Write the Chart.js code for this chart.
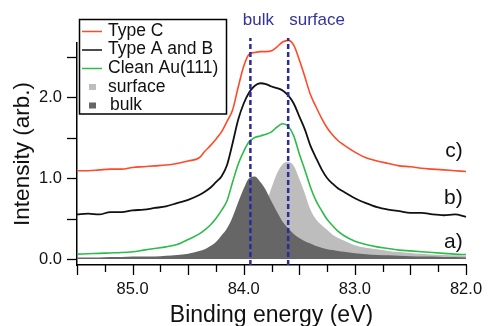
<!DOCTYPE html>
<html><head><meta charset="utf-8">
<script src="https://cdn.jsdelivr.net/npm/chart.js@4.4.1/dist/chart.umd.min.js"></script>
<style>html,body{margin:0;padding:0;background:#fff;}#wrap{width:488px;height:326px;}</style>
</head><body><div id="wrap"><canvas id="c" width="488" height="326"></canvas></div>
<script>
// ---- data (binding energy in eV, intensity in arb. units) ----
const energies = [85.5, 85.4, 85.3, 85.2, 85.1, 85.0, 84.9, 84.8, 84.7, 84.6, 84.5, 84.4,
  84.35, 84.3, 84.25, 84.2, 84.15, 84.1, 84.05, 84.0, 83.95, 83.9, 83.85, 83.8, 83.75, 83.7, 83.65, 83.6, 83.55, 83.5, 83.45, 83.4, 83.35, 83.3, 83.25, 83.2, 83.15,
  83.1, 83.0, 82.9, 82.8, 82.7, 82.6, 82.5, 82.4, 82.3, 82.2, 82.1, 82.0];
const typeC = [1.09, 1.09, 1.10, 1.11, 1.11, 1.13, 1.14, 1.15, 1.16, 1.18, 1.21, 1.25,
  1.33, 1.40, 1.48, 1.57, 1.70, 1.84, 2.12, 2.38, 2.53, 2.55, 2.56, 2.56, 2.57, 2.62, 2.68, 2.70, 2.64, 2.46, 2.25, 2.03, 1.88, 1.74, 1.62, 1.53, 1.46,
  1.41, 1.32, 1.25, 1.21, 1.18, 1.15, 1.14, 1.12, 1.11, 1.10, 1.09, 1.08];
const typeAB = [0.55, 0.56, 0.55, 0.58, 0.58, 0.60, 0.61, 0.63, 0.65, 0.69, 0.73, 0.79,
  0.83, 0.88, 0.95, 1.02, 1.16, 1.43, 1.72, 1.92, 2.06, 2.14, 2.17, 2.16, 2.13, 2.11, 2.08, 2.02, 1.92, 1.76, 1.60, 1.40, 1.25, 1.11, 1.00, 0.93, 0.87,
  0.83, 0.75, 0.69, 0.64, 0.61, 0.59, 0.57, 0.57, 0.55, 0.54, 0.55, 0.52];
const cleanAu = [0.06, 0.065, 0.07, 0.075, 0.08, 0.09, 0.11, 0.13, 0.15, 0.18, 0.24, 0.31,
  0.36, 0.42, 0.50, 0.60, 0.72, 0.95, 1.17, 1.33, 1.45, 1.50, 1.52, 1.54, 1.57, 1.63, 1.67, 1.64, 1.52, 1.30, 1.10, 0.89, 0.72, 0.60, 0.49, 0.41, 0.34,
  0.29, 0.22, 0.18, 0.15, 0.13, 0.11, 0.10, 0.09, 0.08, 0.07, 0.06, 0.055];
const surfaceFit = [0.01, 0.01, 0.012, 0.014, 0.016, 0.018, 0.02, 0.022, 0.025, 0.03, 0.035, 0.04,
  0.045, 0.05, 0.06, 0.07, 0.085, 0.10, 0.13, 0.18, 0.25, 0.36, 0.50, 0.68, 0.88, 1.06, 1.17, 1.20, 1.15, 0.99, 0.81, 0.61, 0.49, 0.42, 0.36, 0.30, 0.26,
  0.23, 0.17, 0.14, 0.12, 0.10, 0.085, 0.075, 0.065, 0.055, 0.05, 0.045, 0.04];
const bulkFit = [0.02, 0.02, 0.02, 0.025, 0.025, 0.03, 0.03, 0.03, 0.04, 0.05, 0.065, 0.10,
  0.12, 0.16, 0.21, 0.29, 0.38, 0.52, 0.70, 0.87, 1.00, 1.02, 0.95, 0.85, 0.71, 0.58, 0.46, 0.38, 0.31, 0.26, 0.22, 0.19, 0.16, 0.14, 0.12, 0.11, 0.10,
  0.09, 0.07, 0.06, 0.05, 0.045, 0.04, 0.035, 0.03, 0.03, 0.025, 0.025, 0.02];
const seriesNames = ['Type C', 'Type A and B', 'Clean Au(111)', 'surface', 'bulk'];
const peakNames = ['bulk', 'surface'];
const peakEnergies = [83.94, 83.60];
const curveTags = ['c)', 'b)', 'a)'];
const curveTagLevels = [1.325, 0.753, 0.21];
const xTickValues = [82.0, 82.25, 82.5, 82.75, 83.0, 83.25, 83.5, 83.75, 84.0, 84.25, 84.5, 84.75, 85.0, 85.25, 85.5];
const xTickLabels = ['82.0', '', '', '', '83.0', '', '', '', '84.0', '', '', '', '85.0', '', ''];
const yTickValues = [0, 0.5, 1.0, 1.5, 2.0, 2.5];
const yTickLabels = ['0.0', '', '1.0', '', '2.0', ''];

// ---- build ----
const pts = arr => energies.map((e, i) => ({x: e, y: arr[i]}));
const FONT = '"Liberation Sans", Arial, Helvetica, sans-serif';
Chart.defaults.font.family = FONT;
Chart.defaults.color = '#111';
const YMIN = -0.074, YMAX = 2.667;
const COL = {c: '#ff4a2a', ab: '#111111', au: '#2dbb4a', surf: '#bdbdbd', bulk: '#666666', peak: '#2b2b9e'};

const lineDs = (label, arr, color, w) => ({label, data: pts(arr), borderColor: color, borderWidth: w,
  pointRadius: 0, fill: false, cubicInterpolationMode: 'monotone', clip: false});
const peakLine = (e) => ({label: 'peak', data: [{x: e, y: YMIN}, {x: e, y: 2.73}], borderColor: COL.peak,
  borderWidth: 2.5, borderDash: [5, 3], pointRadius: 0, fill: false, clip: false});

const datasets = [
  peakLine(peakEnergies[0]), peakLine(peakEnergies[1]),
  lineDs(seriesNames[0], typeC, COL.c, 1.6),
  lineDs(seriesNames[1], typeAB, COL.ab, 1.8),
  lineDs(seriesNames[2], cleanAu, COL.au, 1.6),
  {label: seriesNames[4], data: pts(bulkFit), borderWidth: 0, borderColor: COL.bulk, backgroundColor: COL.bulk,
    pointRadius: 0, fill: {value: 0}, cubicInterpolationMode: 'monotone'},
  {label: seriesNames[3], data: pts(surfaceFit), borderWidth: 0, borderColor: COL.surf, backgroundColor: COL.surf,
    pointRadius: 0, fill: {value: 0}, cubicInterpolationMode: 'monotone'}
];

const decor = {
  id: 'decor',
  afterDraw(chart) {
    const ctx = chart.ctx, xs = chart.scales.x, ys = chart.scales.y;
    ctx.save();
    // tick marks
    ctx.strokeStyle = '#000'; ctx.lineWidth = 1.3;
    xTickValues.forEach(v => {
      const px = Math.round(xs.getPixelForValue(v)) + 0.5;
      const major = Math.abs(v * 2 - Math.round(v * 2)) < 1e-6;
      ctx.beginPath(); ctx.moveTo(px, ys.bottom); ctx.lineTo(px, ys.bottom + (major ? 10 : 7)); ctx.stroke();
    });
    yTickValues.forEach(v => {
      const py = Math.round(ys.getPixelForValue(v)) + 0.5;
      ctx.beginPath(); ctx.moveTo(xs.left - 10, py); ctx.lineTo(xs.left, py); ctx.stroke();
    });
    // peak labels
    ctx.fillStyle = '#33339f'; ctx.font = '17px ' + FONT; ctx.textBaseline = 'middle';
    ctx.textAlign = 'center';
    ctx.fillText(peakNames[0], xs.getPixelForValue(peakEnergies[0]) + 8, 20);
    ctx.textAlign = 'left';
    ctx.fillText(peakNames[1], xs.getPixelForValue(peakEnergies[1]) + 1, 20);
    // curve tags
    ctx.fillStyle = '#111'; ctx.font = '21px ' + FONT; ctx.textAlign = 'right';
    curveTags.forEach((t, i) => ctx.fillText(t, xs.getPixelForValue(82.03), ys.getPixelForValue(curveTagLevels[i])));
    // legend
    const bx = 79.5, by = 19.5, bw = 147, bh = 94.5;
    ctx.fillStyle = '#fff'; ctx.fillRect(bx, by, bw, bh);
    ctx.strokeStyle = '#000'; ctx.lineWidth = 1.5; ctx.strokeRect(bx, by, bw, bh);
    const rows = [31, 49.5, 68, 87, 105.5];
    const cols = [COL.c, COL.ab, COL.au, COL.surf, COL.bulk];
    ctx.font = '17.5px ' + FONT; ctx.textAlign = 'left'; ctx.fillStyle = '#111';
    seriesNames.forEach((n, i) => {
      const y = rows[i];
      if (i < 3) {
        ctx.strokeStyle = cols[i]; ctx.lineWidth = 1.5;
        ctx.beginPath(); ctx.moveTo(82, y + 0.5); ctx.lineTo(102, y + 0.5); ctx.stroke();
      } else {
        ctx.fillStyle = cols[i]; ctx.fillRect(89, y - 3, 7, 6);
      }
      ctx.fillStyle = '#111';
      ctx.fillText(n, i === 4 ? 110 : 108, y);
    });
    ctx.restore();
  }
};

new Chart(document.getElementById('c'), {
  type: 'line',
  data: {datasets},
  options: {
    responsive: false, animation: false, devicePixelRatio: 1,
    layout: {padding: {left: 0, right: 22, top: 43, bottom: 0}},
    plugins: {legend: {display: false}, tooltip: {enabled: false}},
    scales: {
      x: {
        type: 'linear', reverse: true, min: 82.0, max: 85.5,
        afterBuildTicks: s => { s.ticks = xTickValues.map(v => ({value: v})); },
        afterFit: s => { s.height = 61; },
        grid: {display: false, drawTicks: false},
        border: {display: true, color: '#000', width: 1.5},
        ticks: {autoSkip: false, maxRotation: 0, padding: 15, font: {size: 16.5}, color: '#111',
          callback: (v, i) => xTickLabels[i]},
        title: {display: true, text: 'Binding energy (eV)', font: {size: 23, lineHeight: 1}, color: '#111', padding: {top: 0, bottom: -1}}
      },
      y: {
        type: 'linear', min: YMIN, max: YMAX,
        afterBuildTicks: s => { s.ticks = yTickValues.map(v => ({value: v})); },
        afterFit: s => { s.width = 77; },
        grid: {display: false, drawTicks: false},
        border: {display: true, color: '#000', width: 1.5},
        ticks: {autoSkip: false, padding: 15, font: {size: 16.5}, color: '#111',
          callback: (v, i) => yTickLabels[i]},
        title: {display: true, text: 'Intensity (arb.)', font: {size: 22.5, lineHeight: 1}, color: '#111', padding: {top: 12, bottom: 0}}
      }
    }
  },
  plugins: [decor]
});
</script></body></html>
